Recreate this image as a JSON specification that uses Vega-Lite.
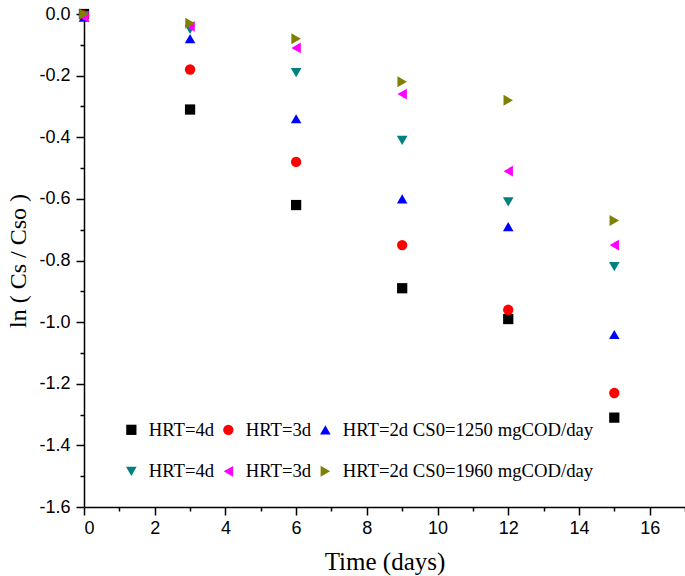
{
  "$schema": "https://vega.github.io/schema/vega-lite/v6.json",
  "width": 601,
  "height": 493,
  "autosize": {"type": "none"},
  "padding": {"left": 84, "top": 14, "right": 0, "bottom": 69},
  "background": "white",
  "config": {"view": {"stroke": null}},
  "data": {"values": [
    {"t": 0, "v": 0.0, "s": "A"}, {"t": 3, "v": -0.31, "s": "A"}, {"t": 6, "v": -0.62, "s": "A"}, {"t": 9, "v": -0.89, "s": "A"}, {"t": 12, "v": -0.99, "s": "A"}, {"t": 15, "v": -1.31, "s": "A"},
    {"t": 0, "v": -0.005, "s": "B"}, {"t": 3, "v": -0.18, "s": "B"}, {"t": 6, "v": -0.48, "s": "B"}, {"t": 9, "v": -0.75, "s": "B"}, {"t": 12, "v": -0.96, "s": "B"}, {"t": 15, "v": -1.23, "s": "B"},
    {"t": 0, "v": -0.01, "s": "C"}, {"t": 3, "v": -0.08, "s": "C"}, {"t": 6, "v": -0.34, "s": "C"}, {"t": 9, "v": -0.60, "s": "C"}, {"t": 12, "v": -0.69, "s": "C"}, {"t": 15, "v": -1.04, "s": "C"},
    {"t": 0, "v": -0.005, "s": "D"}, {"t": 3, "v": -0.05, "s": "D"}, {"t": 6, "v": -0.19, "s": "D"}, {"t": 9, "v": -0.41, "s": "D"}, {"t": 12, "v": -0.61, "s": "D"}, {"t": 15, "v": -0.82, "s": "D"},
    {"t": 0, "v": -0.01, "s": "E"}, {"t": 3, "v": -0.04, "s": "E"}, {"t": 6, "v": -0.11, "s": "E"}, {"t": 9, "v": -0.26, "s": "E"}, {"t": 12, "v": -0.51, "s": "E"}, {"t": 15, "v": -0.75, "s": "E"},
    {"t": 0, "v": 0.0, "s": "F"}, {"t": 3, "v": -0.03, "s": "F"}, {"t": 6, "v": -0.08, "s": "F"}, {"t": 9, "v": -0.22, "s": "F"}, {"t": 12, "v": -0.28, "s": "F"}, {"t": 15, "v": -0.67, "s": "F"}
  ]},
  "mark": {"type": "point", "filled": true, "opacity": 1},
  "encoding": {
    "x": {
      "field": "t", "type": "quantitative",
      "scale": {"domain": [0, 17], "nice": false, "zero": false},
      "axis": {
        "title": "Time (days)",
        "values": [0, 1, 2, 3, 4, 5, 6, 7, 8, 9, 10, 11, 12, 13, 14, 15, 16, 17],
        "labelExpr": "datum.value % 2 == 0 ? format(datum.value, 'd') : ''",
        "grid": false, "domainColor": "black", "domainWidth": 1.5, "tickColor": "black", "tickWidth": 1.5,
        "tickSize": {"condition": {"test": "datum.value % 2 == 0", "value": 8}, "value": 4},
        "labelFont": "Liberation Sans", "labelFontSize": 18, "labelColor": "black", "labelPadding": 4,
        "titleFont": "Liberation Serif", "titleFontSize": 25, "titleFontWeight": "normal", "titleColor": "black", "titlePadding": 12
      }
    },
    "y": {
      "field": "v", "type": "quantitative",
      "scale": {"domain": [-1.6, 0], "nice": false, "zero": false},
      "axis": {
        "title": "ln ( Cs / Cso )",
        "values": [-1.6, -1.5, -1.4, -1.3, -1.2, -1.1, -1.0, -0.9, -0.8, -0.7, -0.6, -0.5, -0.4, -0.3, -0.2, -0.1, 0],
        "labelExpr": "abs(round(datum.value * 10)) % 2 == 0 ? replace(format(datum.value, '.1f'), '\u2212', '-') : ''",
        "grid": false, "domainColor": "black", "domainWidth": 1.5, "tickColor": "black", "tickWidth": 1.5,
        "tickSize": {"condition": {"test": "abs(round(datum.value * 10)) % 2 == 0", "value": 8}, "value": 4},
        "labelFont": "Liberation Sans", "labelFontSize": 18, "labelColor": "black", "labelPadding": 6,
        "titleFont": "Liberation Serif", "titleFontSize": 24, "titleFontWeight": "normal", "titleColor": "black", "titlePadding": 8
      }
    },
    "size": {
      "field": "s", "type": "nominal", "legend": null,
      "scale": {"domain": ["A", "B", "C", "D", "E", "F"], "range": [105, 120, 230, 230, 230, 230]}
    },
    "color": {
      "field": "s", "type": "nominal",
      "scale": {"domain": ["A", "B", "C", "D", "E", "F"], "range": ["#000000", "#ff0000", "#0000ff", "#008080", "#ff00ff", "#808000"]},
      "legend": {
        "title": null, "orient": "none", "legendX": 38, "legendY": 406, "columns": 3, "direction": "horizontal",
        "columnPadding": 4, "rowPadding": 22,
        "labelFont": "Liberation Serif", "labelFontSize": 18.7, "labelColor": "black", "labelOffset": 8,
        "symbolSize": 150, "symbolOpacity": 1,
        "labelLimit": 400,
        "labelExpr": "datum.label == 'A' || datum.label == 'D' ? 'HRT=4d' : (datum.label == 'B' || datum.label == 'E' ? 'HRT=3d' : (datum.label == 'C' ? 'HRT=2d CS0=1250 mgCOD/day' : 'HRT=2d CS0=1960 mgCOD/day'))"
      }
    },
    "shape": {
      "field": "s", "type": "nominal",
      "scale": {"domain": ["A", "B", "C", "D", "E", "F"], "range": ["square", "circle", "triangle-up", "triangle-down", "triangle-left", "triangle-right"]}
    }
  }
}
